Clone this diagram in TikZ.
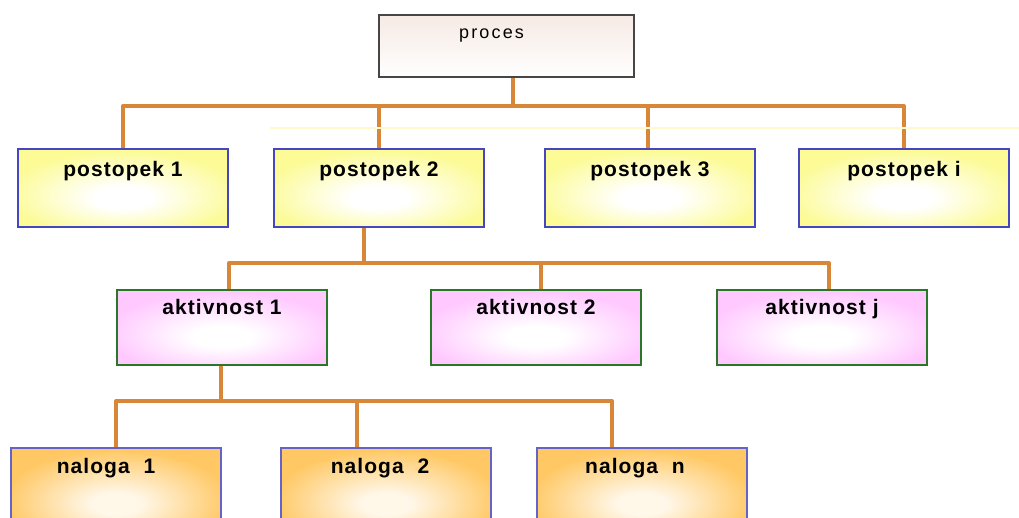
\documentclass[tikz,border=0pt]{standalone}
\usepackage{fontspec}
\setmainfont{Liberation Sans}
\newfontfamily\labfont[LetterSpace=5]{Liberation Sans}
\newfontfamily\topfont[LetterSpace=12]{Liberation Sans}

% fills and outlines
\definecolor{procline}{RGB}{70,70,70}
\definecolor{procfill}{RGB}{246,234,228}
\definecolor{yelfill}{RGB}{252,251,150}
\definecolor{yelline}{RGB}{70,70,190}
\definecolor{pinkfill}{RGB}{255,200,255}
\definecolor{pinkline}{RGB}{40,120,40}
\definecolor{orfill}{RGB}{255,200,100}
\definecolor{orline}{RGB}{100,100,200}
\definecolor{linkcol}{RGB}{215,135,55}
\definecolor{guide}{RGB}{255,249,205}

% soft glow, brightest a little below the middle of the box
\pgfdeclareradialshading{yelglow}{\pgfpoint{0bp}{-7bp}}{color(0bp)=(white); color(7bp)=(white); color(28bp)=(yelfill); color(60bp)=(yelfill)}
\pgfdeclareradialshading{pinkglow}{\pgfpoint{0bp}{-7bp}}{color(0bp)=(white); color(7bp)=(white); color(28bp)=(pinkfill); color(60bp)=(pinkfill)}
\pgfdeclareradialshading{orglow}{\pgfpoint{0bp}{-5bp}}{color(0bp)=(white!85!orfill); color(6bp)=(white!85!orfill); color(27bp)=(orfill); color(60bp)=(orfill)}

% fixed gap after a label, so the label sits left of the box centre
\newcommand{\padright}[1]{\hbox to #1{}}

\begin{document}
\begin{tikzpicture}[x=1pt,y=-1pt,
  boxbase/.style={rectangle, anchor=north west, inner sep=0pt,
    minimum width=210pt, line width=2pt, text=black,
    font=\labfont\bfseries\fontsize{21}{21}\selectfont},
  procbox/.style={boxbase, minimum width=255pt, minimum height=62pt,
    text height=23pt, text depth=39pt, draw=procline, line width=2.2pt,
    top color=procfill, bottom color=white,
    font=\topfont\fontsize{18}{18}\selectfont},
  stagebox/.style={boxbase, minimum height=78pt, text height=28pt, text depth=50pt,
    draw=yelline, shading=yelglow},
  actbox/.style={boxbase, minimum height=75pt, text height=24pt, text depth=51pt,
    draw=pinkline, shading=pinkglow},
  taskbox/.style={boxbase, minimum height=95pt, text height=25pt, text depth=70pt,
    draw=orline, shading=orglow},
  link/.style={draw=linkcol, line width=4pt, line join=round}]

\clip (0,0) rectangle (1019,518);
\fill[white] (0,0) rectangle (1019,518);

% boxes
\node[procbox] (proc) at (378,14) {proces\padright{30pt}};

\node[stagebox] (p1) at (17,148)  {postopek 1};
\node[stagebox] (p2) at (273,148) {postopek 2};
\node[stagebox] (p3) at (544,148) {postopek 3};
\node[stagebox] (pi) at (798,148) {postopek i};

\node[actbox] (a1) at (116,289) {aktivnost 1};
\node[actbox] (a2) at (430,289) {aktivnost 2};
\node[actbox] (aj) at (716,289) {aktivnost j};

\node[taskbox] (n1) at (10,447)  {naloga\ \ 1\padright{20pt}};
\node[taskbox] (n2) at (280,447) {naloga\ \ 2\padright{12pt}};
\node[taskbox] (nn) at (536,447) {naloga\ \ n\padright{14pt}};

% process -> stages
\coordinate (j0) at (513,106);
\draw[link] (j0 |- proc.south) -- (j0);
\draw[link] (j0) -| (p1.north);
\draw[link] (j0) -| (p2.north);
\draw[link] (j0) -| ([xshift=-2pt]p3.north);
\draw[link] (j0) -| (pi.north);

% stage 2 -> activities
\coordinate (j1) at (364,263);
\draw[link] (j1 |- p2.south) -- (j1);
\draw[link] (j1) -| ([xshift=7pt]a1.north);
\draw[link] (j1) -| ([xshift=5pt]a2.north);
\draw[link] (j1) -| ([xshift=7pt]aj.north);

% activity 1 -> tasks
\coordinate (j2) at (221,401);
\draw[link] (j2 |- a1.south) -- (j2);
\draw[link] (j2) -| ([xshift=106pt]n1.north west);
\draw[link] (j2) -| ([xshift=77pt]n2.north west);
\draw[link] (j2) -| ([xshift=76pt]nn.north west);

% faint guide line across the stage row
\draw[guide, line width=1.5pt] (270,128) -- (1019,128);
\end{tikzpicture}
\end{document}
